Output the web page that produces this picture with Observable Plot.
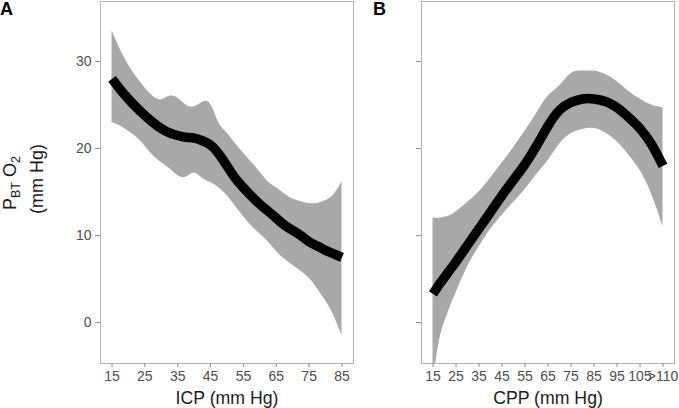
<!DOCTYPE html>
<html>
<head>
<meta charset="utf-8">
<script src="https://cdn.jsdelivr.net/npm/d3@7"></script>
<script src="https://cdn.jsdelivr.net/npm/@observablehq/plot@0.6"></script>
<style>
  body { margin: 0; background: #fff; }
  #wrap { position: relative; width: 679px; height: 408px; font-family: "Liberation Sans", Arial, sans-serif; }
  #wrap > svg, #wrap > div { position: absolute; top: 0; }
</style>
</head>
<body>
<div id="wrap"></div>
<script>
// ---- Data ----
const yTicks = [0, 10, 20, 30];

// Panel A: ICP (mm Hg)
const icpX   = [15, 17.5, 20, 22.5, 25, 27.5, 30, 32.5, 35, 37.5, 40, 42.5, 45, 47.5, 50, 52.5, 55, 57.5, 60, 62.5, 65, 67.5, 70, 72.5, 75, 77.5, 80, 82.5, 85];
const icpFit = [28.0, 26.8, 25.7, 24.7, 23.8, 23.0, 22.3, 21.8, 21.5, 21.3, 21.2, 20.9, 20.4, 19.4, 18.0, 16.6, 15.5, 14.5, 13.6, 12.8, 12.0, 11.2, 10.6, 10.0, 9.3, 8.8, 8.3, 7.9, 7.5];
const icpHi  = [33.5, 31.4, 29.6, 28.2, 27.0, 26.0, 25.6, 26.0, 25.8, 25.0, 24.8, 25.3, 25.1, 23.0, 21.8, 20.6, 19.5, 18.4, 17.3, 16.2, 15.5, 14.8, 14.2, 13.9, 13.7, 13.7, 14.0, 14.7, 16.2];
const icpLo  = [23.0, 22.6, 22.0, 21.3, 20.3, 19.2, 18.4, 17.7, 16.9, 16.7, 17.2, 16.6, 16.1, 15.5, 14.6, 13.4, 12.2, 11.1, 10.2, 9.3, 8.2, 7.3, 6.6, 5.9, 5.1, 3.9, 2.5, 0.8, -1.5];
const icpTicks = [15, 25, 35, 45, 55, 65, 75, 85];

// Panel B: CPP (mm Hg)
const cppX   = [15, 17.5, 20, 22.5, 25, 30, 35, 40, 45, 50, 55, 60, 65, 70, 75, 80, 85, 90, 95, 100, 105, 110, 115];
const cppFit = [3.3, 4.3, 5.2, 6.1, 7.0, 8.9, 10.8, 12.7, 14.6, 16.4, 18.2, 20.3, 22.6, 24.4, 25.3, 25.7, 25.7, 25.4, 24.7, 23.6, 22.3, 20.5, 18.0];
const cppHi  = [12.0, 12.0, 12.1, 12.3, 12.7, 13.8, 15.0, 16.6, 18.3, 20.1, 22.0, 24.0, 26.0, 27.2, 28.6, 28.9, 28.9, 28.5, 27.7, 26.6, 25.7, 25.0, 24.7];
const cppLo  = [-7.0, -2.5, 0.0, 1.8, 3.4, 6.4, 8.7, 10.7, 12.3, 13.8, 15.3, 17.0, 18.6, 20.5, 21.7, 22.2, 22.3, 21.8, 20.8, 19.3, 17.5, 14.8, 11.0];
const cppTicks = [15, 25, 35, 45, 55, 65, 75, 85, 95, 105, 115];
const cppTickLabels = ["15", "25", "35", "45", "55", "65", "75", "85", "95", "105", ">110"];

const labels = { a: "A", b: "B", xA: "ICP (mm Hg)", xB: "CPP (mm Hg)" };

// ---- Build ----
const dataA = icpX.map((x, i) => ({ x, fit: icpFit[i], lo: icpLo[i], hi: icpHi[i] }));
const dataB = cppX.map((x, i) => ({ x, fit: cppFit[i], lo: cppLo[i], hi: cppHi[i] }));

const FONT = '"Liberation Sans", Arial, sans-serif';
const RIBBON = "#a8a8a8";
const FRAME = "#b3b3b3";
const TICKCOL = "#888888";
const TEXTCOL = "#4d4d4d";
const yDomain = [-4.7, 36.9];

function panel({ data, width, marginLeft, xDomain, ticks, tickFormat, yLabels, title }) {
  return Plot.plot({
    width, height: 408,
    marginLeft, marginRight: 5, marginTop: 1, marginBottom: 45,
    style: { fontFamily: FONT, fontSize: "14px", background: "transparent", overflow: "visible" },
    x: { domain: xDomain },
    y: { domain: yDomain },
    marks: [
      Plot.areaY(data, { x: "x", y1: "lo", y2: "hi", fill: RIBBON, curve: "natural", clip: true }),
      Plot.line(data, { x: "x", y: "fit", stroke: "black", strokeWidth: 9.5, strokeLinecap: "butt", curve: "natural", clip: true }),
      Plot.frame({ stroke: FRAME, strokeWidth: 1 }),
      Plot.axisX({ ticks, tickFormat, tickSize: 4, tickPadding: 4, stroke: TICKCOL, fill: TEXTCOL, fontSize: 14, label: null }),
      Plot.axisY({ ticks: yTicks, tickFormat: yLabels ? (d => String(d)) : (() => ""), tickSize: 5, tickPadding: 4, stroke: TICKCOL, fill: TEXTCOL, fontSize: 14, label: null }),
      Plot.text([title], { frameAnchor: "bottom", lineAnchor: "middle", dy: 35, fontSize: 17.7, fill: "#1a1a1a", fontFamily: FONT })
    ]
  });
}

const wrap = document.getElementById("wrap");

const plotA = panel({
  data: dataA, width: 358, marginLeft: 100,
  xDomain: [11.5, 88.5], ticks: icpTicks, tickFormat: d => String(d),
  yLabels: true, title: labels.xA
});
plotA.style.left = "0px";
plotA.style.position = "absolute";
wrap.appendChild(plotA);

const plotB = panel({
  data: dataB, width: 321, marginLeft: 63,
  xDomain: [10, 120], ticks: cppTicks, tickFormat: d => cppTickLabels[cppTicks.indexOf(d)],
  yLabels: false, title: labels.xB
});
plotB.style.left = "358px";
plotB.style.position = "absolute";
wrap.appendChild(plotB);

// Overlay: panel tags and y-axis title (with subscripts)
const ov = d3.select(wrap).append("svg")
  .attr("width", 679).attr("height", 408)
  .style("position", "absolute").style("left", "0px").style("top", "0px")
  .style("pointer-events", "none")
  .attr("font-family", FONT);

ov.append("text").attr("x", 0).attr("y", 15).attr("font-size", 18).attr("font-weight", "bold").attr("fill", "#000").text(labels.a);
ov.append("text").attr("x", 373).attr("y", 15).attr("font-size", 18).attr("font-weight", "bold").attr("fill", "#000").text(labels.b);

const t1 = ov.append("text")
  .attr("transform", "translate(16,183) rotate(-90)")
  .attr("text-anchor", "middle").attr("font-size", 18).attr("fill", "#1a1a1a");
t1.append("tspan").text("P");
t1.append("tspan").attr("dy", 4).attr("font-size", 12.5).text("BT");
t1.append("tspan").attr("dy", -4).text(" O");
t1.append("tspan").attr("dy", 4).attr("font-size", 12.5).text("2");

ov.append("text")
  .attr("transform", "translate(43,179) rotate(-90)")
  .attr("text-anchor", "middle").attr("font-size", 18).attr("fill", "#1a1a1a")
  .text("(mm Hg)");
</script>
</body>
</html>
